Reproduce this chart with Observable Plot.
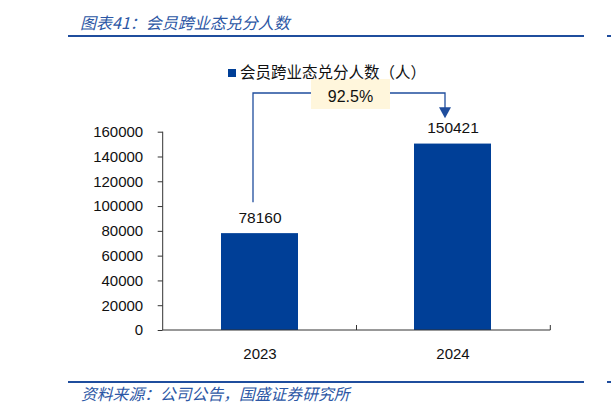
<!DOCTYPE html>
<html>
<head>
<meta charset="utf-8">
<script src="https://cdn.jsdelivr.net/npm/d3@7"></script>
<script src="https://cdn.jsdelivr.net/npm/@observablehq/plot@0.6"></script>
<style>
  html, body { margin: 0; padding: 0; background: #fff; }
  #wrap { position: relative; width: 611px; height: 410px; overflow: hidden; background: #fff; }
  #chart { position: absolute; left: 0; top: 0; }
  .cjk { font-family: "Noto Sans CJK SC", sans-serif; white-space: nowrap; position: absolute; }
  #title { left: 80px; top: 14px; font-size: 16px; line-height: 16px; font-style: italic; color: #2c57a5; }
  #source { left: 81px; top: 386px; font-size: 15.8px; line-height: 16px; font-style: italic; color: #2c57a5; }
  .rule { position: absolute; height: 2.6px; background: #1f4d9d; }
  #legend { left: 228px; top: 63px; height: 18px; }
  #legend .sw { position: absolute; left: 0; top: 6px; width: 8px; height: 8px; background: #003f97; }
  #legend .lt { position: absolute; left: 12px; top: 0; font-size: 15.5px; line-height: 16px; color: #111; }
</style>
</head>
<body>
<div id="wrap">
  <div id="chart"></div>
  <div id="title" class="cjk">图表41：会员跨业态兑分人数</div>
  <div class="rule" style="left:68px;width:516px;top:34.5px;"></div>
  <div class="rule" style="left:607px;width:4px;top:34.5px;"></div>
  <div id="legend" class="cjk"><span class="sw"></span><span class="lt cjk">会员跨业态兑分人数（人）</span></div>
  <div class="rule" style="left:68px;width:516px;top:380.8px;"></div>
  <div class="rule" style="left:607px;width:4px;top:380.8px;"></div>
  <div id="source" class="cjk">资料来源：公司公告，国盛证券研究所</div>
</div>
<script>
// ---- data ----
const years = ["2023", "2024"];
const members = [78160, 150421];
const yTicks = [0, 20000, 40000, 60000, 80000, 100000, 120000, 140000, 160000];
const growthLabel = ((members[1] / members[0] - 1) * 100).toFixed(1) + "%";

const barColor = "#003f97";
const lineColor = "#1f4d9d";
const table = years.map((year, i) => ({year, value: members[i]}));

// axis lines + x ticks at band boundaries
function axisLines(index, scales, values, dims) {
  const {x, y} = scales;
  const g = d3.create("svg:g");
  const left = dims.marginLeft, right = dims.width - dims.marginRight;
  const y0 = y(0), yTop = y(yTicks[yTicks.length - 1]);
  g.append("line").attr("x1", left).attr("x2", left).attr("y1", y0).attr("y2", yTop)
    .attr("stroke", "#333").attr("stroke-width", 1);
  g.append("line").attr("x1", left).attr("x2", right).attr("y1", y0).attr("y2", y0)
    .attr("stroke", "#333").attr("stroke-width", 1);
  const step = (right - left) / years.length;
  for (let k = 1; k <= years.length; k++) {
    const bx = left + k * step;
    g.append("line").attr("x1", bx).attr("x2", bx).attr("y1", y0).attr("y2", y0 - 5)
      .attr("stroke", "#333").attr("stroke-width", 1);
  }
  return g.node();
}

// growth annotation: connector, arrow, labelled box
function annotation(index, scales, values, dims) {
  const {x, y} = scales;
  const bw = x.bandwidth ? x.bandwidth() : 0;
  const cx1 = x(years[0]) + bw / 2 - 6.5;
  const cx2 = x(years[1]) + bw / 2 - 7.5;
  const level = y(yTicks[yTicks.length - 1]) - 38.7;
  const startY = y(members[0]) - 31;
  const tipY = y(members[1]) - 25.3;
  const g = d3.create("svg:g");
  g.append("path")
    .attr("d", `M${cx1},${startY}V${level}H${cx2}V${tipY - 10}`)
    .attr("fill", "none").attr("stroke", lineColor).attr("stroke-width", 1.3);
  g.append("path")
    .attr("d", `M${cx2 - 6},${tipY - 11}L${cx2 + 6},${tipY - 11}L${cx2},${tipY}Z`)
    .attr("fill", lineColor);
  const mx = (cx1 + cx2) / 2 + 1.5;
  g.append("rect")
    .attr("x", mx - 39.5).attr("y", level - 14).attr("width", 79).attr("height", 30)
    .attr("fill", "#fff6dc");
  g.append("text")
    .attr("x", mx).attr("y", level + 9)
    .attr("text-anchor", "middle")
    .attr("font-family", "Liberation Sans").attr("font-size", 16).attr("fill", "#111")
    .text(growthLabel);
  return g.node();
}

const chart = Plot.plot({
  width: 611,
  height: 410,
  marginLeft: 162.7,
  marginRight: 60.7,
  marginTop: 131.7,
  marginBottom: 80,
  style: {fontFamily: "Liberation Sans", fontSize: "15px", color: "#111", background: "transparent"},
  x: {domain: years, paddingInner: 0.6, paddingOuter: 0.3, label: null},
  y: {domain: [0, 160000], label: null},
  marks: [
    Plot.axisY({ticks: yTicks, tickSize: 5, tickPadding: 15, tickFormat: d => String(d), label: null, fontSize: 15, stroke: "#333"}),
    Plot.axisX({tickSize: 0, tickPadding: 18, label: null, fontSize: 15}),
    Plot.barY(table, {x: "year", y: "value", fill: barColor}),
    Plot.text(table, {x: "year", y: "value", text: d => String(d.value), dy: -11, lineAnchor: "bottom", fontSize: 15.5, fill: "#111"}),
    axisLines,
    annotation
  ]
});
document.getElementById("chart").appendChild(chart);
</script>
</body>
</html>
